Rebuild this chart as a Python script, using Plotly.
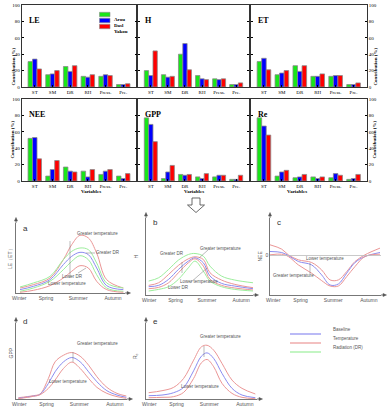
import plotly.graph_objects as go

W, H = 391, 414
def px(x): return x / W
def py(y): return 1 - y / H

# ---------------- bar chart data ----------------
variables = ["ST", "SM", "DR", "RH", "Press.", "Pre."]
sites = ["Arou", "Dasl", "Yakou"]
site_colors = ["#19e619", "#0000ff", "#ff0000"]

LE_arou = [31, 15, 25, 13, 13, 3]
LE_dasl = [34, 16, 19, 12, 15, 3]
LE_yakou = [22, 20, 26, 15, 14, 4]
H_arou = [20, 15, 40, 14, 10, 3]
H_dasl = [14, 12, 53, 10, 9, 3]
H_yakou = [44, 13, 21, 9, 10, 5]
ET_arou = [31, 15, 26, 13, 13, 3]
ET_dasl = [35, 17, 19, 13, 14, 3]
ET_yakou = [21, 20, 26, 16, 14, 5]
NEE_arou = [52, 6, 17, 12, 8, 6]
NEE_dasl = [53, 14, 12, 5, 12, 3]
NEE_yakou = [27, 25, 11, 14, 14, 9]
GPP_arou = [77, 3, 8, 5, 5, 2]
GPP_dasl = [69, 11, 7, 3, 7, 2]
GPP_yakou = [48, 19, 8, 9, 7, 7]
Re_arou = [77, 6, 4, 5, 4, 2]
Re_dasl = [67, 11, 5, 3, 9, 3]
Re_yakou = [56, 13, 8, 5, 7, 8]
y_ticks = [0, 20, 40, 60, 80, 100]

# ---------------- schematic curve data (fractions of axis) ----------------
seasons = ["Winter", "Spring", "Summer", "Autumn"]
season_pos = [0.03, 0.275, 0.57, 0.89]

a_x = [0.037, 0.159, 0.312, 0.434, 0.511, 0.587, 0.664, 0.740, 0.832, 0.985]
a_temp_hi = [0.071, 0.119, 0.214, 0.476, 0.690, 0.824, 0.786, 0.571, 0.190, 0.071]
a_dr_hi = [0.086, 0.143, 0.238, 0.476, 0.595, 0.643, 0.619, 0.429, 0.143, 0.071]
a_base = [0.048, 0.095, 0.190, 0.405, 0.524, 0.581, 0.548, 0.357, 0.105, 0.048]
a_dr_lo = [0.024, 0.071, 0.167, 0.333, 0.452, 0.533, 0.476, 0.262, 0.071, 0.024]
a_temp_lo = [0.010, 0.038, 0.105, 0.214, 0.310, 0.390, 0.357, 0.167, 0.048, 0.010]

b_x = [0.025, 0.118, 0.211, 0.303, 0.396, 0.458, 0.536, 0.598, 0.706, 0.830, 1.0]
b_dr_hi = [0.181, 0.224, 0.332, 0.453, 0.526, 0.539, 0.504, 0.375, 0.246, 0.194, 0.159]
b_temp_hi = [0.125, 0.159, 0.267, 0.384, 0.470, 0.496, 0.461, 0.289, 0.194, 0.138, 0.095]
b_base = [0.108, 0.125, 0.203, 0.332, 0.440, 0.483, 0.418, 0.246, 0.151, 0.116, 0.082]
b_temp_lo = [0.082, 0.099, 0.159, 0.289, 0.418, 0.470, 0.375, 0.203, 0.125, 0.091, 0.065]
b_dr_lo = [0.052, 0.073, 0.108, 0.203, 0.353, 0.440, 0.310, 0.181, 0.108, 0.073, 0.052]

c_x = [0.0, 0.105, 0.165, 0.255, 0.375, 0.465, 0.541, 0.616, 0.691, 0.766, 0.856, 0.991]
c_temp_a = [0.652, 0.596, 0.522, 0.457, 0.422, 0.326, 0.196, 0.196, 0.304, 0.435, 0.522, 0.609]
c_base = [0.565, 0.552, 0.513, 0.435, 0.391, 0.261, 0.130, 0.143, 0.283, 0.422, 0.500, 0.552]
c_temp_b = [0.522, 0.530, 0.500, 0.391, 0.283, 0.187, 0.117, 0.117, 0.239, 0.370, 0.500, 0.530]
c_zero = 0.513

d_x = [0.021, 0.157, 0.217, 0.292, 0.352, 0.428, 0.503, 0.578, 0.654, 0.729, 0.819, 0.910, 0.994]
d_temp_hi = [0.017, 0.044, 0.066, 0.271, 0.489, 0.576, 0.611, 0.563, 0.445, 0.293, 0.153, 0.074, 0.039]
d_base = [0.009, 0.039, 0.061, 0.205, 0.358, 0.489, 0.546, 0.489, 0.358, 0.227, 0.109, 0.052, 0.022]
d_temp_lo = [0.004, 0.035, 0.057, 0.140, 0.249, 0.402, 0.485, 0.402, 0.271, 0.153, 0.074, 0.031, 0.009]

e_x = [0.024, 0.144, 0.249, 0.339, 0.429, 0.499, 0.550, 0.610, 0.685, 0.775, 0.865, 0.985]
e_temp_hi = [0.083, 0.109, 0.153, 0.271, 0.511, 0.686, 0.707, 0.642, 0.467, 0.249, 0.140, 0.066]
e_base = [0.044, 0.052, 0.083, 0.153, 0.371, 0.563, 0.607, 0.533, 0.336, 0.140, 0.052, 0.017]
e_temp_lo = [0.017, 0.022, 0.031, 0.087, 0.271, 0.476, 0.520, 0.424, 0.205, 0.074, 0.022, 0.004]

C_BASE = "#8c8cf0"
C_TEMP = "#eb9696"
C_DR = "#9cee9c"
GREY = "#555555"
SERIF = "Liberation Serif"
SANS = "Liberation Sans"

fig = go.Figure()
layout = dict(width=W, height=H, margin=dict(l=0, r=0, t=0, b=0), autosize=False,
              paper_bgcolor="white", plot_bgcolor="white", showlegend=False,
              barmode="group", bargap=0.24, bargroupgap=0)
annotations = []
shapes = []

def pline(x0, y0, x1, y1, color="#777", width=0.5):
    shapes.append(dict(type="line", xref="paper", yref="paper", x0=px(x0), y0=py(y0), x1=px(x1), y1=py(y1),
                       line=dict(color=color, width=width)))

def ppath(pts, fill, color, width=0.6, closed=True):
    path = "M " + " L ".join(f"{px(x):.5f},{py(y):.5f}" for x, y in pts) + (" Z" if closed else "")
    shapes.append(dict(type="path", xref="paper", yref="paper", path=path, line=dict(color=color, width=width),
                       fillcolor=fill))

bar_panels = [
    ("LE", [LE_arou, LE_dasl, LE_yakou], (21.5, 136.5), (5, 87), "left"),
    ("H", [H_arou, H_dasl, H_yakou], (138, 249), (5, 87), None),
    ("ET", [ET_arou, ET_dasl, ET_yakou], (250.5, 367), (5, 87), "right"),
    ("NEE", [NEE_arou, NEE_dasl, NEE_yakou], (21.5, 136.5), (99, 181), "left"),
    ("GPP", [GPP_arou, GPP_dasl, GPP_yakou], (138, 249), (99, 181), None),
    ("Re", [Re_arou, Re_dasl, Re_yakou], (250.5, 367), (99, 181), "right"),
]

for i, (name, series, (x0, x1), (y0, y1), side) in enumerate(bar_panels, start=1):
    for s, vals, col in zip(sites, series, site_colors):
        fig.add_trace(go.Bar(x=variables, y=vals, name=s, marker=dict(color=col, line=dict(color="#8a8a8a", width=0.8)),
                             xaxis=f"x{i}", yaxis=f"y{i}"))
    layout[f"xaxis{i}"] = dict(domain=[px(x0), px(x1)], anchor=f"y{i}", type="category",
                               range=[-0.75, 5.75], showline=True, mirror=True, linecolor="black", linewidth=0.8,
                               ticks="inside", ticklen=2, tickcolor="black",
                               tickfont=dict(family=SERIF, size=5, color="black"), showgrid=False, automargin=False)
    layout[f"yaxis{i}"] = dict(domain=[py(y1), py(y0)], anchor=f"x{i}", range=[0, 100], tickvals=y_ticks,
                               showline=True, mirror="ticks", linecolor="black", linewidth=0.8,
                               ticks="inside", ticklen=2, tickcolor="black", showgrid=False, zeroline=False,
                               showticklabels=side is not None, side=side or "left",
                               tickfont=dict(family=SERIF, size=5, color="black"), automargin=False)
    annotations.append(dict(x=px(x0 + 5), y=py(y0 + 9), xref="paper", yref="paper", text=f"<b>{name}</b>",
                            showarrow=False, xanchor="left", font=dict(family=SERIF, size=8, color="black")))
    if side == "left":
        annotations.append(dict(x=px(8), y=py((y0 + y1) / 2), xref="paper", yref="paper", text="<b>Contribution (%)</b>",
                                textangle=-90, showarrow=False, font=dict(family=SERIF, size=5, color="black")))
    if side == "right":
        annotations.append(dict(x=px(379), y=py((y0 + y1) / 2), xref="paper", yref="paper", text="<b>Contribution (%)</b>",
                                textangle=-90, showarrow=False, font=dict(family=SERIF, size=5, color="black")))
    if y0 > 50:
        annotations.append(dict(x=px((x0 + x1) / 2), y=py(191.5), xref="paper", yref="paper", text="<b>Variables</b>",
                                showarrow=False, font=dict(family=SERIF, size=5, color="black")))

# bar legend
for k, (s, col) in enumerate(zip(sites, site_colors)):
    yc = 14.5 + 6 * k
    shapes.append(dict(type="rect", xref="paper", yref="paper", x0=px(99.5), x1=px(110), y0=py(yc + 2.2), y1=py(yc - 2.2),
                       fillcolor=col, line=dict(color="#8a8a8a", width=0.6)))
    annotations.append(dict(x=px(112), y=py(yc), xref="paper", yref="paper", text=f"<b>{s}</b>", showarrow=False,
                            xanchor="left", font=dict(family=SERIF, size=5, color="black")))

# hollow arrow between the two figure parts
ppath([(192, 198), (200, 198), (200, 205), (204.5, 205), (196, 212.5), (187.5, 205), (192, 205)], "white", "#444", 0.8)

# ---------------- schematic panels ----------------
line_panels = [
    ("a", "LE（ET）", (16, 125), (223, 293), [(a_x, a_temp_hi, C_TEMP), (a_x, a_dr_hi, C_DR), (a_x, a_base, C_BASE),
                                           (a_x, a_dr_lo, C_DR), (a_x, a_temp_lo, C_TEMP)]),
    ("b", "H", (146, 253), (218, 295), [(b_x, b_dr_hi, C_DR), (b_x, b_temp_hi, C_TEMP), (b_x, b_base, C_BASE),
                                       (b_x, b_temp_lo, C_TEMP), (b_x, b_dr_lo, C_DR)]),
    ("c", "NEE", (270, 381), (218, 295), [(c_x, c_temp_a, C_TEMP), (c_x, c_base, C_BASE), (c_x, c_temp_b, C_TEMP)]),
    ("d", "GPP", (16, 127), (323, 399), [(d_x, d_temp_hi, C_TEMP), (d_x, d_base, C_BASE), (d_x, d_temp_lo, C_TEMP)]),
    ("e", "R<sub>e</sub>", (146, 257), (323, 399), [(e_x, e_temp_hi, C_TEMP), (e_x, e_base, C_BASE), (e_x, e_temp_lo, C_TEMP)]),
]

for j, (lab, ytitle, (x0, x1), (y0, y1), curves) in enumerate(line_panels, start=7):
    for xs, ys, col in curves:
        fig.add_trace(go.Scatter(x=xs, y=ys, mode="lines", line=dict(color=col, width=1, shape="spline", smoothing=1.0),
                                 xaxis=f"x{j}", yaxis=f"y{j}", hoverinfo="skip"))
    layout[f"xaxis{j}"] = dict(domain=[px(x0), px(x1)], anchor=f"y{j}", range=[0, 1], showline=True,
                               linecolor=GREY, linewidth=0.8, showgrid=False, zeroline=False, ticks="",
                               tickvals=season_pos, ticktext=seasons, tickfont=dict(family=SANS, size=5, color=GREY),
                               automargin=False)
    yax = dict(domain=[py(y1), py(y0)], anchor=f"x{j}", range=[0, 1], showline=True, linecolor=GREY, linewidth=0.8,
               showgrid=False, zeroline=False, ticks="", showticklabels=False, automargin=False)
    if lab == "c":
        yax.update(showticklabels=True, tickvals=[c_zero], ticktext=["0"], tickfont=dict(family=SANS, size=5, color=GREY))
        shapes.append(dict(type="line", xref=f"x{j}", yref=f"y{j}", x0=0, x1=1, y0=c_zero, y1=c_zero,
                           line=dict(color="#bbbbbb", width=0.8)))
    layout[f"yaxis{j}"] = yax
    # axis extensions with arrowheads
    pline(x0, y0, x0, y0 - 4, GREY, 0.8)
    ppath([(x0 - 1.5, y0 - 2), (x0 + 1.5, y0 - 2), (x0, y0 - 5.5)], GREY, GREY, 0.5)
    pline(x1, y1, x1 + 4, y1, GREY, 0.8)
    ppath([(x1 + 2, y1 - 1.5), (x1 + 2, y1 + 1.5), (x1 + 5.5, y1)], GREY, GREY, 0.5)
    annotations.append(dict(x=px(x0 + 5), y=py(y0 + 5), xref="paper", yref="paper", text=lab, showarrow=False,
                            xanchor="left", font=dict(family=SANS, size=8, color="#333")))
    annotations.append(dict(x=px(x0 - 11), y=py((y0 + y1) / 2), xref="paper", yref="paper", text=ytitle, textangle=-90,
                            showarrow=False, font=dict(family=SANS, size=5, color=GREY)))

def note(x, y, t, anchor="center"):
    annotations.append(dict(x=px(x), y=py(y), xref="paper", yref="paper", text=t, showarrow=False, xanchor=anchor,
                            font=dict(family=SANS, size=4.5, color=GREY)))

note(97, 234, "Greater temperature")
note(108, 252, "Greater DR")
note(72, 276, "Lower DR")
note(67, 288, "Lower temperature")
pline(70, 241, 70, 278)
pline(95, 253, 86, 253)
pline(78, 273, 86, 268)
note(172, 253, "Greater DR")
note(220, 248, "Greater temperature")
note(199, 286, "Lower temperature")
note(178, 292, "Lower DR")
pline(208, 250, 199, 258)
pline(190, 283, 207, 268)
pline(182, 262, 182, 273)
note(325, 258, "Lower temperature")
note(293, 280, "Greater temperature")
pline(310, 263, 310, 274)
note(97, 348, "Greater temperature")
note(68, 386, "Lower temperature")
pline(73, 352, 73, 362)
note(220, 341, "Greater temperature")
note(200, 391, "Lower temperature")
pline(204, 346, 204, 357)

# line legend
for k, (t, col) in enumerate([("Baseline", C_BASE), ("Temperature", C_TEMP), ("Radiation (DR)", C_DR)]):
    yy = 334 + 9 * k
    pline(290, yy, 321, yy, col, 1.2)
    note(331, yy, t, anchor="left")

layout["annotations"] = annotations
layout["shapes"] = shapes
fig.update_layout(**layout)
fig.write_html("out.html", config={"displayModeBar": False, "staticPlot": True},
               post_script="document.body.style.margin='0';document.body.style.overflow='hidden';")
